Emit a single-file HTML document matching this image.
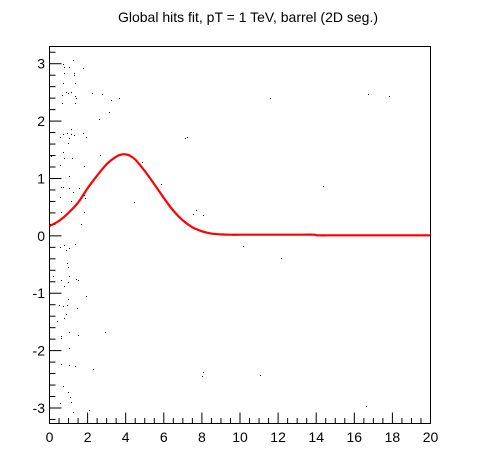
<!DOCTYPE html>
<html><head><meta charset="utf-8"><style>
html,body{margin:0;padding:0;background:#fff;}
svg{display:block;font-family:"Liberation Sans",Arial,sans-serif;}
</style></head><body>
<svg id="chart" width="496" height="472" viewBox="0 0 496 472">
<rect x="0" y="0" width="496" height="472" fill="#fff"/>
<text x="248" y="22" font-size="14" text-anchor="middle">Global hits fit, pT = 1 TeV, barrel (2D seg.)</text>
<g id="plot"></g>
</svg>
<script>
const xTicks=[0,2,4,6,8,10,12,14,16,18,20];
const yTicks=[-3,-2,-1,0,1,2,3];
const curveX=[0,0.5,1,1.5,2,2.5,3,3.5,3.8,4,4.2,4.5,5,5.5,6,6.5,7,7.5,8,8.5,9,9.5,10,11,12,13,13.9,14.1,15,16,17,18,19,20];
const curveY=[0.17,0.26,0.4,0.58,0.83,1.05,1.25,1.38,1.42,1.42,1.4,1.33,1.13,0.9,0.66,0.44,0.27,0.15,0.08,0.04,0.025,0.02,0.02,0.02,0.02,0.02,0.02,0.01,0.01,0.01,0.01,0.01,0.01,0.01];
const hitX=[0.69,0.76,1.25,1.03,0.78,1.27,1.3,1.78,0.72,1.35,0.64,0.86,0.96,1.13,1.33,1.4,0.66,1.32,2.25,2.78,3.22,3.67,2.6,3.1,7.22,1.77,1.92,0.54,0.72,0.9,1.13,1.29,1.0,0.97,1.13,0.06,0.69,0.76,1.16,0.54,1.8,2.63,4.85,1.0,0.58,0.73,1.0,1.53,1.25,0.55,1.13,1.85,1.8,5.86,4.46,0.62,1.8,1.64,7.55,
0.55,0.76,1.35,1.03,0.86,0.9,0.96,0.2,1.04,0.6,1.4,1.52,0.96,0.78,1.94,0.96,0.52,0.73,0.9,1.42,0.86,0.78,0.39,1.0,0.6,1.52,2.9,0.6,1.03,0.6,1.0,1.35,2.3,0.72,0.97,1.1,1.12,0.55,1.25,2.08,
8.0,8.08,11.03,12.13,10.18,11.6,16.7,17.8,14.37,16.6,7.7,8.08,7.13];
const hitY=[3.0,2.94,3.06,2.94,2.84,2.84,2.8,2.92,2.67,2.67,2.45,2.5,2.49,2.5,2.43,2.4,2.32,2.31,2.49,2.47,2.36,2.4,2.04,2.15,1.73,1.79,1.73,1.73,1.77,1.8,1.77,1.75,1.7,1.61,1.87,1.39,1.47,1.35,1.36,1.23,1.22,1.41,1.29,1.04,0.85,0.85,0.84,0.83,0.76,0.67,0.6,0.66,0.71,0.9,0.59,0.41,0.41,0.21,0.38,
-0.2,-0.16,-0.15,-0.22,-0.25,-0.48,-0.55,-0.7,-0.7,-0.77,-0.76,-0.77,-0.81,-0.87,-1.04,-1.1,-1.2,-1.23,-1.2,-1.26,-1.37,-1.43,-1.49,-1.68,-1.74,-1.73,-1.68,-1.78,-1.96,-2.23,-2.25,-2.27,-2.32,-2.62,-2.72,-2.8,-2.9,-2.92,-3.07,-3.03,
-2.45,-2.38,-2.43,-0.38,-0.17,2.4,2.47,2.43,0.87,-2.97,0.45,0.37,1.71];

const L=49.5,R=430.5,T=46.5,B=423.5,xMin=0,xMax=20,yMin=-3.27,yMax=3.3;
const sx=v=>L+(v-xMin)/(xMax-xMin)*(R-L);
const sy=v=>B-(v-yMin)/(yMax-yMin)*(B-T);
const NS="http://www.w3.org/2000/svg";
const g=document.getElementById('plot');
function mk(t,a){const e=document.createElementNS(NS,t);for(const k in a)e.setAttribute(k,a[k]);g.appendChild(e);return e;}

const frame=mk('rect',{x:L,y:T,width:R-L,height:B-T,fill:'none',stroke:'#000','stroke-width':1});



for(let v=0;v<=20.001;v+=0.5){
  const major=Math.abs(v/2-Math.round(v/2))<1e-6;
  const t=mk('line',{x1:sx(v),x2:sx(v),y1:B,y2:B-(major?11:5.5),stroke:'#000','stroke-width':1});
  
  
}
xTicks.forEach(v=>{
  const t=mk('text',{x:sx(v),y:442,'font-size':14,'text-anchor':'middle'});
  t.textContent=v;
  
  
});
for(let k=-16;k<=16;k++){
  const v=k*0.2;
  if(v<yMin||v>yMax)continue;
  const major=k%5===0;
  const t=mk('line',{x1:L,x2:L+(major?12:6),y1:sy(v),y2:sy(v),stroke:'#000','stroke-width':1});
  
  
}
yTicks.forEach(v=>{
  const t=mk('text',{x:45,y:sy(v)+5,'font-size':14,'text-anchor':'end'});
  t.textContent=v;
  
  
});
hitX.forEach((x,i)=>{
  const p=mk('rect',{x:Math.round(sx(x)),y:Math.round(sy(hitY[i])),width:1,height:1,fill:'#000'});
  
  
});
// smooth curve (Catmull-Rom -> bezier)
const P=curveX.map((x,i)=>[sx(x),sy(curveY[i])]);
let d='M'+P[0][0].toFixed(1)+','+P[0][1].toFixed(1);
for(let i=0;i<P.length-1;i++){
  const p0=P[Math.max(0,i-1)],p1=P[i],p2=P[i+1],p3=P[Math.min(P.length-1,i+2)];
  const c1=[p1[0]+(p2[0]-p0[0])/6,p1[1]+(p2[1]-p0[1])/6];
  const c2=[p2[0]-(p3[0]-p1[0])/6,p2[1]-(p3[1]-p1[1])/6];
  d+=' C'+c1[0].toFixed(1)+','+c1[1].toFixed(1)+' '+c2[0].toFixed(1)+','+c2[1].toFixed(1)+' '+p2[0].toFixed(1)+','+p2[1].toFixed(1);
}
const c=mk('path',{d:d,fill:'none',stroke:'#ff0000','stroke-width':2.2,'stroke-linejoin':'round'});


</script>
</body></html>
